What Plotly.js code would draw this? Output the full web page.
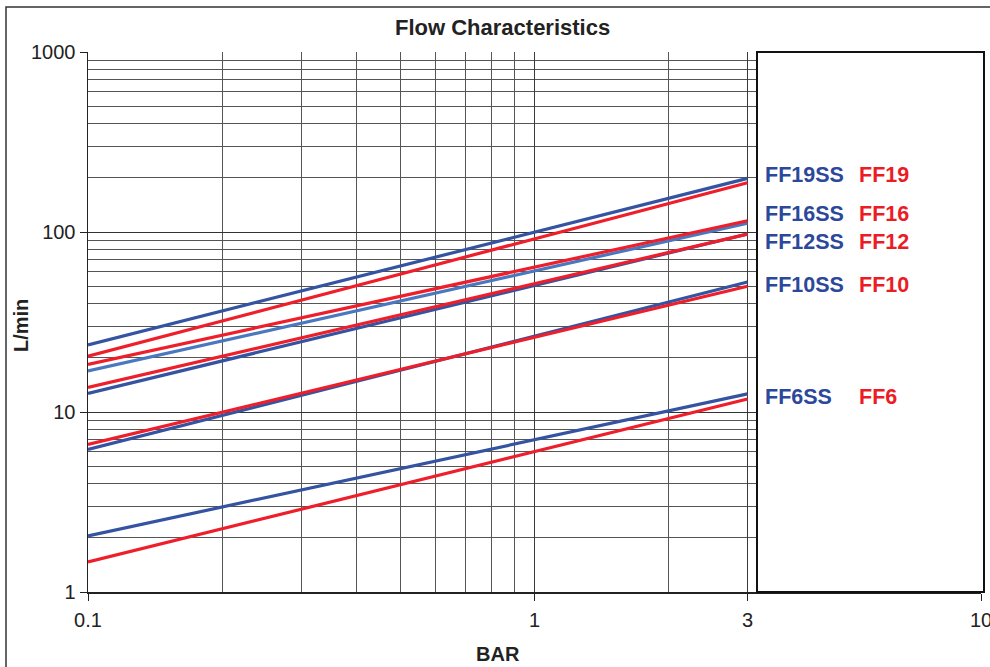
<!DOCTYPE html>
<html>
<head>
<meta charset="utf-8">
<script src="https://cdn.plot.ly/plotly-3.0.1.min.js"></script>
<style>html,body{margin:0;padding:0;background:#fff;}#chart{width:990px;height:667px;}</style>
</head>
<body>
<div id="chart"></div>
<script>
// ---- data ----
var pressureBar = [0.1, 3];
var ff19ss = [23.6, 198.6];
var ff19   = [20.4, 187.7];
var ff16ss = [16.9, 112];
var ff16   = [18.4, 115.4];
var ff12ss = [12.7, 97.5];
var ff12   = [13.7, 97.3];
var ff10ss = [6.19, 52.7];
var ff10   = [6.6, 50];
var ff6ss  = [2.05, 12.6];
var ff6    = [1.47, 11.8];

var xTickVals = [0.1, 1, 3, 10];
var xTickText = ['0.1', '1', '3', '10'];
var xMinorVals = [0.2, 0.3, 0.4, 0.5, 0.6, 0.7, 0.8, 0.9, 2];
var yTickVals = [1, 10, 100, 1000];
var yTickText = ['1', '10', '100', '1000'];
var yMinorVals = [2,3,4,5,6,7,8,9,20,30,40,50,60,70,80,90,200,300,400,500,600,700,800,900];

var blueLabels = ['FF19SS', 'FF16SS', 'FF12SS', 'FF10SS', 'FF6SS'];
var redLabels  = ['FF19', 'FF16', 'FF12', 'FF10', 'FF6'];

// ---- style ----
var DARKBLUE = '#3453a1', LIGHTBLUE = '#4a78bf', RED = '#ee1f2a';
var LBLUE = '#2c489b', LRED = '#ec1c24';
var FONT = 'Liberation Sans, Arial, sans-serif';

function tr(y, color) {
  return {x: pressureBar, y: y, type: 'scatter', mode: 'lines',
          line: {color: color, width: 3.2}, hoverinfo: 'skip', showlegend: false};
}
var data = [
  tr(ff19ss, DARKBLUE), tr(ff16ss, LIGHTBLUE), tr(ff12ss, DARKBLUE), tr(ff10ss, DARKBLUE), tr(ff6ss, DARKBLUE),
  tr(ff19, RED), tr(ff16, RED), tr(ff12, RED), tr(ff10, RED), tr(ff6, RED)
];

// pixel helpers (plot area 88..981 x, 52..592 y)
var L = 88, T = 52, W = 893, H = 540;
function px(x) { return (x - L) / W; }
function py(y) { return (T + H - y) / H; }

var labelY = [175, 214, 242.5, 285, 397];
var annotations = [];
for (var i = 0; i < blueLabels.length; i++) {
  annotations.push({xref: 'paper', yref: 'paper', x: px(763), y: py(labelY[i]), xanchor: 'left', yanchor: 'middle',
    text: blueLabels[i], showarrow: false, font: {family: FONT, size: 21.5, color: LBLUE, weight: 'bold'}});
  annotations.push({xref: 'paper', yref: 'paper', x: px(857), y: py(labelY[i]), xanchor: 'left', yanchor: 'middle',
    text: redLabels[i], showarrow: false, font: {family: FONT, size: 21.5, color: LRED, weight: 'bold'}});
}
annotations.push({xref: 'paper', yref: 'paper', x: px(502), y: py(27), xanchor: 'center', yanchor: 'middle',
  text: 'Flow Characteristics', showarrow: false, font: {family: FONT, size: 22, color: '#222', weight: 'bold'}});
annotations.push({xref: 'paper', yref: 'paper', x: px(498), y: py(654), xanchor: 'center', yanchor: 'middle',
  text: 'BAR', showarrow: false, font: {family: FONT, size: 20, color: '#222', weight: 'bold'}});
annotations.push({xref: 'paper', yref: 'paper', x: px(21), y: py(326), xanchor: 'center', yanchor: 'middle',
  text: 'L/min', textangle: -90, showarrow: false, font: {family: FONT, size: 20, color: '#222', weight: 'bold'}});

var layout = {
  width: 990, height: 667,
  margin: {l: 88, r: 9, t: 52, b: 75, pad: 0},
  paper_bgcolor: '#fff', plot_bgcolor: '#fff',
  font: {family: FONT, size: 20, color: '#222'},
  showlegend: false,
  xaxis: {
    type: 'log', range: [-1, 1], tickmode: 'array', tickvals: xTickVals, ticktext: xTickText,
    showgrid: true, gridcolor: '#3a3a3a', gridwidth: 1,
    ticks: 'outside', ticklen: 7, tickcolor: '#222', tickwidth: 1,
    showline: true, linecolor: '#222', linewidth: 1.5,
    ticklabelstandoff: 2, ticklabeloverflow: 'allow', zeroline: false, fixedrange: true,
    tickfont: {family: FONT, size: 20, color: '#222'},
    minor: {tickmode: 'array', tickvals: xMinorVals, showgrid: true, gridcolor: '#555', gridwidth: 1, ticks: ''}
  },
  yaxis: {
    type: 'log', range: [0, 3], tickmode: 'array', tickvals: yTickVals, ticktext: yTickText,
    showgrid: true, gridcolor: '#333', gridwidth: 1,
    ticks: 'outside', ticklen: 7, tickcolor: '#222', tickwidth: 1,
    showline: true, linecolor: '#222', linewidth: 1.5,
    ticklabelstandoff: 9.6, zeroline: false, fixedrange: true,
    tickfont: {family: FONT, size: 20, color: '#222'},
    minor: {tickmode: 'array', tickvals: yMinorVals, showgrid: true, gridcolor: '#555', gridwidth: 1, ticks: ''}
  },
  shapes: [
    {type: 'rect', xref: 'paper', yref: 'paper', x0: px(757), x1: px(984), y0: 0, y1: 1,
     fillcolor: '#fff', line: {color: '#111', width: 2}, layer: 'above'},
    {type: 'rect', xref: 'paper', yref: 'paper', x0: px(6), x1: px(1020), y0: py(690), y1: py(7),
     fillcolor: 'rgba(0,0,0,0)', line: {color: '#333', width: 1.5}, layer: 'above'}
  ],
  annotations: annotations
};

Plotly.newPlot('chart', data, layout, {staticPlot: true, displayModeBar: false});
</script>
</body>
</html>
